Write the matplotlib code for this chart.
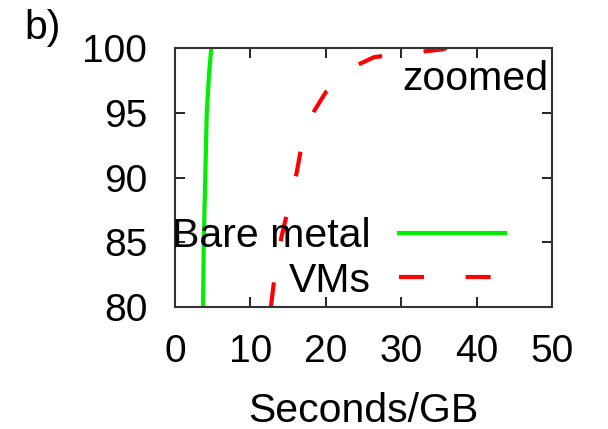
import matplotlib

matplotlib.use("Agg")
import matplotlib.pyplot as plt

plt.rcParams["font.family"] = ["Liberation Sans", "DejaVu Sans"]

# percentile (zoomed 80..100) vs seconds/GB
bare_pct = [80, 85, 90, 95, 98, 100]
bare_sec = [3.7, 3.8, 4.0, 4.2, 4.5, 4.8]

vm_pct = [80, 81.9, 85.4, 90.3, 91.9, 95.2, 96.6, 98.7, 99.3, 99.7, 99.9, 100]
vm_sec = [12.7, 13.1, 14.1, 16.1, 16.6, 18.5, 20.0, 24.2, 26.4, 32.4, 35.5, 36.0]

x_ticks = [0, 10, 20, 30, 40, 50]
y_ticks = [80, 85, 90, 95, 100]

fig = plt.figure(figsize=(6.08, 4.29), dpi=100)
ax = fig.add_axes([0.288, 0.284, 0.62, 0.604])

ax.plot(bare_sec, bare_pct, color="#00ee00", linewidth=3, label="Bare metal")
ax.plot(vm_sec, vm_pct, color="#ff0000", linewidth=3, dashes=(6, 10),
        label="VMs")

ax.set_xlim(0, 50)
ax.set_ylim(80, 100)
ax.set_xticks(x_ticks)
ax.set_yticks(y_ticks)
ax.tick_params(direction="in", length=7, width=1.2, top=True, right=True,
               labelsize=28)
ax.tick_params(axis="x", pad=19)
ax.tick_params(axis="y", pad=20)
for s in ax.spines.values():
    s.set_linewidth(1.5)
    s.set_color("#333333")

ax.set_xlabel("Seconds/GB", fontsize=29.5, labelpad=16)
ax.text(0.99, 0.88, "zoomed", transform=ax.transAxes, ha="right",
        va="center", fontsize=29.5)
fig.text(0.04, 0.935, "b)", fontsize=29.5, ha="left", va="center")

leg = ax.legend(loc="lower right", bbox_to_anchor=(0.93, -0.05), frameon=False,
                fontsize=29.5, markerfirst=False, handlelength=2.6,
                handletextpad=0.68, labelspacing=0.15, borderpad=0)
for t in leg.get_texts():
    t.set_ha("right")

fig.savefig("out.png", dpi=100)
